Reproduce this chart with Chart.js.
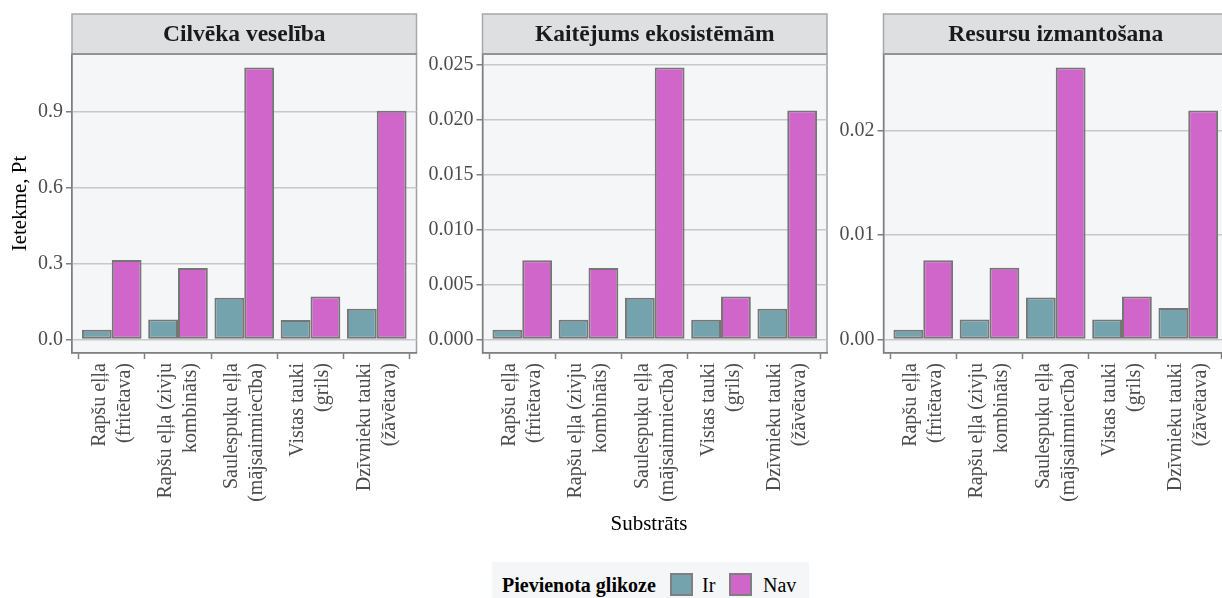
<!DOCTYPE html>
<html>
<head>
<meta charset="utf-8">
<script src="https://cdn.jsdelivr.net/npm/chart.js@4.4.1/dist/chart.umd.min.js"></script>
<style>
  html, body { margin: 0; padding: 0; background: #fff; width: 1222px; height: 598px; overflow: hidden; }
  #wrap { position: relative; width: 1222px; height: 598px; overflow: hidden; font-family: 'Liberation Serif', 'Times New Roman', serif; }
  #wrap canvas { position: absolute; left: 0; top: 0; }
  .xtitle { position: absolute; left: 549px; width: 200px; top: 511px; text-align: center; font-size: 21px; line-height: 25px; color: #000; }
  .legend-bg { position: absolute; left: 492px; top: 562px; width: 317px; height: 40px; background: #F5F6F8; }
  .legend-item { position: absolute; font-size: 20px; line-height: 24px; top: 573px; color: #000; white-space: nowrap; }
  .legend-title { font-weight: bold; }
  .swatch { position: absolute; top: 573px; width: 23px; height: 23px; box-sizing: border-box; border: 2px solid #7f7f7f; }
</style>
</head>
<body>
<div id="wrap">
  <canvas id="panel1" width="1240" height="598"></canvas>
  <canvas id="panel2" width="1240" height="598"></canvas>
  <canvas id="panel3" width="1240" height="598"></canvas>
  <div class="xtitle">Substrāts</div>
  <div class="legend-bg"></div>
  <div class="legend-item legend-title" style="left:502px">Pievienota glikoze</div>
  <div class="swatch" id="swIr" style="left:670px"></div>
  <div class="legend-item" id="lbIr" style="left:702px"></div>
  <div class="swatch" id="swNav" style="left:729px"></div>
  <div class="legend-item" id="lbNav" style="left:763px"></div>
</div>
<script>
// Substrates (x categories, two-line labels)
const categories = [
  ['Rapšu eļļa', '(fritētava)'],
  ['Rapšu eļļa (zivju', 'kombināts)'],
  ['Saulespuķu eļļa', '(mājsaimniecība)'],
  ['Vistas tauki', '(grils)'],
  ['Dzīvnieku tauki', '(žāvētava)']
];
const seriesNames = ['Ir', 'Nav'];
const panelTitles = ['Cilvēka veselība', 'Kaitējums ekosistēmām', 'Resursu izmantošana'];

// Impact values, Pt
const healthIr  = [0.038, 0.079, 0.164, 0.077, 0.121];
const healthNav = [0.313, 0.282, 1.073, 0.169, 0.903];
const ecoIr     = [0.00088, 0.0018, 0.0038, 0.0018, 0.0028];
const ecoNav    = [0.0072, 0.0065, 0.02475, 0.0039, 0.02085];
const resIr     = [0.00092, 0.0019, 0.0040, 0.0019, 0.0030];
const resNav    = [0.00756, 0.00686, 0.0260, 0.0041, 0.0219];

// y tick values per panel
const healthTicks = [0, 0.3, 0.6, 0.9];
const ecoTicks    = [0, 0.005, 0.010, 0.015, 0.020, 0.025];
const resTicks    = [0, 0.01, 0.02];

const FONT = "'Liberation Serif', 'Times New Roman', serif";
const COLOR_IR = '#74A3AE';
const COLOR_NAV = '#D166CA';
const EDGE = '#767676';
const CANVAS_W = 1240;
const PANEL_W = 344.5;
const PLOT_TOP = 54;
const PLOT_BOTTOM = 353;
const STRIP_TOP = 14;
const Y_BOX = 66;

document.getElementById('swIr').style.background = COLOR_IR;
document.getElementById('swNav').style.background = COLOR_NAV;
document.getElementById('lbIr').textContent = seriesNames[0];
document.getElementById('lbNav').textContent = seriesNames[1];

// Panel background, border and facet strip
const panelDecor = {
  id: 'panelDecor',
  beforeDraw(chart, args, opts) {
    const { ctx, chartArea: a } = chart;
    ctx.save();
    ctx.fillStyle = '#F5F6F8';
    ctx.fillRect(a.left, a.top, a.right - a.left, a.bottom - a.top);
    ctx.strokeStyle = '#a0a0a0';
    ctx.lineWidth = 1.5;
    ctx.strokeRect(a.left, a.top, a.right - a.left, a.bottom - a.top);
    ctx.restore();
  },
  afterDraw(chart, args, opts) {
    const { ctx, chartArea: a } = chart;
    ctx.save();
    ctx.fillStyle = '#DEDFE1';
    ctx.fillRect(a.left, STRIP_TOP, a.right - a.left, a.top - STRIP_TOP);
    ctx.strokeStyle = '#a8a8a8';
    ctx.lineWidth = 1.5;
    ctx.strokeRect(a.left, STRIP_TOP, a.right - a.left, a.top - STRIP_TOP);
    ctx.beginPath();
    ctx.strokeStyle = '#8a8a8a';
    ctx.moveTo(a.left, a.top);
    ctx.lineTo(a.right, a.top);
    ctx.stroke();
    ctx.fillStyle = '#1a1a1a';
    ctx.font = 'bold 23.5px ' + FONT;
    ctx.textAlign = 'center';
    ctx.textBaseline = 'middle';
    ctx.fillText(opts.title, (a.left + a.right) / 2, (STRIP_TOP + a.top) / 2 + 1);
    ctx.restore();
  }
};

function makePanel(canvasId, title, left, irVals, navVals, tickVals, decimals, yTitle) {
  const right = left + PANEL_W;
  const maxVal = Math.max(...irVals, ...navVals);
  const toPoints = vals => vals.map((v, i) => ({ x: i + 1, y: v }));
  return new Chart(document.getElementById(canvasId), {
    type: 'bar',
    data: {
      datasets: [
        { label: seriesNames[0], data: toPoints(irVals), backgroundColor: COLOR_IR,
          borderColor: EDGE, borderWidth: 2, borderSkipped: false },
        { label: seriesNames[1], data: toPoints(navVals), backgroundColor: COLOR_NAV,
          borderColor: EDGE, borderWidth: 2, borderSkipped: false }
      ]
    },
    options: {
      responsive: false,
      animation: false,
      devicePixelRatio: 1,
      events: [],
      layout: { padding: { left: left - Y_BOX, right: CANVAS_W - right, top: PLOT_TOP, bottom: 0 } },
      datasets: { bar: { categoryPercentage: 0.9, barPercentage: 1 } },
      plugins: {
        legend: { display: false },
        tooltip: { enabled: false },
        panelDecor: { title }
      },
      scales: {
        x: {
          type: 'linear',
          min: 0.4,
          max: 5.6,
          offset: false,
          afterBuildTicks(s) { s.ticks = categories.map((c, i) => ({ value: i + 1 })); },
          afterFit(s) { s.height = 598 - PLOT_BOTTOM; s.paddingLeft = 0; s.paddingRight = 0; },
          ticks: {
            autoSkip: false,
            minRotation: 90,
            maxRotation: 90,
            labelOffset: -12.5,
            padding: 4,
            color: '#4d4d4d',
            font: { family: FONT, size: 20, lineHeight: 1.25 },
            callback: v => categories[Math.round(v) - 1]
          },
          grid: { display: true, drawOnChartArea: false, drawTicks: true, tickLength: 6,
                  tickColor: '#7f7f7f', tickWidth: 1.5 },
          border: { display: true, color: '#7f7f7f', width: 1.5 }
        },
        y: {
          min: -0.05 * maxVal,
          max: 1.05 * maxVal,
          afterBuildTicks(s) { s.ticks = tickVals.map(v => ({ value: v })); },
          afterFit(s) { s.width = Y_BOX; s.paddingTop = 0; s.paddingBottom = 0; },
          ticks: {
            padding: 3,
            color: '#4d4d4d',
            font: { family: FONT, size: 20 },
            callback: v => Number(v).toFixed(decimals)
          },
          grid: { color: '#c8c8c8', lineWidth: 1.5, drawTicks: true, tickLength: 6,
                  tickColor: '#7f7f7f', tickWidth: 1.5 },
          border: { display: true, color: '#7f7f7f', width: 1.5 },
          title: yTitle ? { display: true, text: yTitle, color: '#000',
                            font: { family: FONT, size: 21 }, padding: { top: 2, bottom: 0 } }
                        : { display: false }
        }
      }
    },
    plugins: [panelDecor]
  });
}

makePanel('panel1', panelTitles[0], 72, healthIr, healthNav, healthTicks, 1, 'Ietekme, Pt');
makePanel('panel2', panelTitles[1], 482.5, ecoIr, ecoNav, ecoTicks, 3, null);
makePanel('panel3', panelTitles[2], 883.5, resIr, resNav, resTicks, 2, null);
</script>
</body>
</html>
